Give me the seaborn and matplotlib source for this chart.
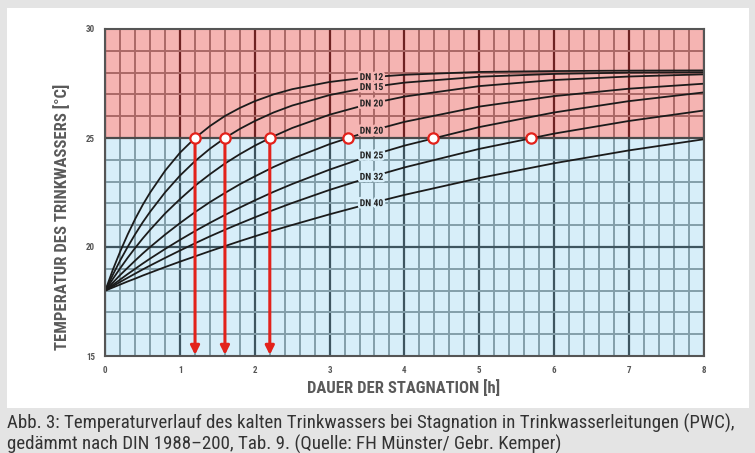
import numpy as np
import pandas as pd
import matplotlib
matplotlib.use("Agg")
import matplotlib.pyplot as plt
import matplotlib.patheffects as pe
from matplotlib.patches import Rectangle
import seaborn as sns

hours = [0, 0.1, 0.2, 0.3, 0.4, 0.5, 0.6, 0.8, 1.0, 1.2, 1.4, 1.6, 1.8, 2.0, 2.25, 2.5,
         3.0, 3.5, 4.0, 5.0, 6.0, 7.0, 8.0]
dn12 = [18.0, 18.95, 19.80, 20.58, 21.29, 21.93, 22.50, 23.50, 24.33, 25.00, 25.55, 26.01,
        26.38, 26.69, 27.00, 27.24, 27.57, 27.78, 27.90, 28.03, 28.07, 28.09, 28.10]
dn15 = [18.0, 18.72, 19.39, 20.01, 20.59, 21.13, 21.62, 22.51, 23.28, 23.94, 24.51, 25.00,
        25.42, 25.78, 26.17, 26.49, 26.97, 27.31, 27.54, 27.81, 27.94, 28.00, 28.02]
dn20a = [18.0, 18.53, 19.03, 19.51, 19.96, 20.39, 20.79, 21.54, 22.20, 22.81, 23.34, 23.83,
         24.26, 24.65, 25.08, 25.46, 26.07, 26.54, 26.90, 27.38, 27.66, 27.82, 27.92]
dn20b = [18.0, 18.36, 18.72, 19.05, 19.38, 19.70, 20.00, 20.57, 21.10, 21.60, 22.06, 22.48,
         22.88, 23.24, 23.67, 24.05, 24.72, 25.28, 25.74, 26.44, 26.92, 27.26, 27.49]
dn25 = [18.0, 18.26, 18.51, 18.76, 19.00, 19.24, 19.47, 19.91, 20.33, 20.73, 21.11, 21.47,
        21.81, 22.14, 22.53, 22.89, 23.55, 24.14, 24.65, 25.50, 26.17, 26.69, 27.09]
dn32 = [18.0, 18.20, 18.40, 18.59, 18.78, 18.97, 19.15, 19.50, 19.84, 20.17, 20.49, 20.79,
        21.08, 21.36, 21.70, 22.02, 22.62, 23.16, 23.65, 24.50, 25.20, 25.78, 26.26]
dn40 = [18.0, 18.14, 18.28, 18.42, 18.55, 18.69, 18.82, 19.08, 19.33, 19.57, 19.81, 20.04,
        20.27, 20.49, 20.76, 21.01, 21.50, 21.96, 22.39, 23.16, 23.84, 24.43, 24.94]

curve_names = ["DN 12", "DN 15", "DN 20", "DN 20", "DN 25", "DN 32", "DN 40"]
curves = [dn12, dn15, dn20a, dn20b, dn25, dn32, dn40]

limit_temp = 25
cross_h = [1.2, 1.6, 2.2, 3.24, 4.38, 5.69]   # 25 °C erreicht
arrow_h = [1.2, 1.6, 2.2]
label_h = 3.56

caption = ("Abb. 3: Temperaturverlauf des kalten Trinkwassers bei Stagnation in Trinkwasserleitungen (PWC),\n"
           "gedämmt nach DIN 1988–200, Tab. 9. (Quelle: FH Münster/ Gebr. Kemper)")

rows = []
for i, vals in enumerate(curves):
    for h, t in zip(hours, vals):
        rows.append({"curve": i, "h": h, "temp": t})
df = pd.DataFrame(rows)

sns.set_style("white")
narrow = ["Roboto Condensed", "DejaVu Sans Condensed", "Liberation Sans Narrow", "Roboto", "DejaVu Sans"]
plt.rcParams["font.family"] = narrow
plt.rcParams["font.stretch"] = "condensed"

RED_BG, BLUE_BG = "#f5b4b2", "#d7eef9"
RED_MIN, RED_MAJ = "#aa6866", "#6e2222"
BLUE_MIN, BLUE_MAJ = "#839ea9", "#3e5560"
ARROW = "#e3221b"

fig = plt.figure(figsize=(7.55, 4.53), dpi=100, facecolor="#e4e4e4")
fig.patches.append(Rectangle((7 / 755, 1 - 408 / 453), 742 / 755, 400 / 453,
                             transform=fig.transFigure, facecolor="white",
                             edgecolor="none", zorder=-5))

ax = fig.add_axes([105.3 / 755, 1 - 356 / 453, 598.2 / 755, 327 / 453])
ax.set_zorder(2)
ax.set_xlim(0, 8)
ax.set_ylim(15, 30)

# Hintergrund und Raster
ax.axhspan(limit_temp, 30, color=RED_BG, zorder=0, lw=0)
ax.axhspan(15, limit_temp, color=BLUE_BG, zorder=0, lw=0)
minor_x = np.arange(0, 8.01, 0.2)
major_x = np.arange(0, 9, 1)
ax.vlines(minor_x, limit_temp, 30, color=RED_MIN, lw=1.4, zorder=1)
ax.vlines(major_x, limit_temp, 30, color=RED_MAJ, lw=1.6, zorder=1.1)
ax.vlines(minor_x, 15, limit_temp, color=BLUE_MIN, lw=1.4, zorder=1)
ax.vlines(major_x, 15, limit_temp, color=BLUE_MAJ, lw=1.6, zorder=1.1)
ax.hlines(np.arange(26, 30, 1), 0, 8, color=RED_MIN, lw=1.4, zorder=1.2)
ax.hlines([16, 17, 18, 19, 21, 22, 23, 24], 0, 8, color=BLUE_MIN, lw=1.4, zorder=1.2)
ax.hlines([20], 0, 8, color=BLUE_MAJ, lw=1.6, zorder=1.3)
ax.hlines([limit_temp], 0, 8, color="#4a4a4a", lw=1.6, zorder=1.3)

# Kurven
sns.lineplot(data=df, x="h", y="temp", units="curve", estimator=None, sort=False,
             color="#1b1b1b", linewidth=1.3, ax=ax, zorder=3, legend=False)

for name, vals in zip(curve_names, curves):
    y = np.interp(label_h, hours, vals)
    bg = RED_BG if y >= limit_temp else BLUE_BG
    ax.text(label_h, y, name, ha="center", va="center", fontsize=7,
            fontweight="bold", color="#222222", zorder=4,
            path_effects=[pe.withStroke(linewidth=3.5, foreground=bg)])

for h in arrow_h:
    ax.annotate("", xy=(h, 15.05), xytext=(h, limit_temp),
                arrowprops=dict(arrowstyle="-|>", color=ARROW, lw=2.2,
                                mutation_scale=13, shrinkA=0, shrinkB=0),
                zorder=5)

sns.scatterplot(x=cross_h, y=[limit_temp] * len(cross_h), s=55, color="white",
                edgecolor=ARROW, linewidth=1.6, zorder=6, ax=ax, legend=False)

# Achsen
ax.set_xticks(major_x)
ax.set_xticks(minor_x, minor=True)
ax.set_yticks([15, 20, 25, 30])
ax.set_yticks(np.arange(15, 31, 1), minor=True)
ax.tick_params(which="both", direction="out", length=3.5, width=1, color="#666666",
               labelsize=6.5, labelcolor="#555555", pad=4)
for lab in ax.get_xticklabels() + ax.get_yticklabels():
    lab.set_fontweight("bold")
ax.set_xlabel("")
ax.set_ylabel("")
for sp in ax.spines.values():
    sp.set_visible(True)
    sp.set_color("#555555")
    sp.set_linewidth(1.5)
    sp.set_zorder(7)

fig.text(404 / 755, 1 - 388 / 453, "DAUER DER STAGNATION [h]", ha="center", va="center",
         fontsize=12, fontweight="bold", color="#5a5a5a")
fig.text(62 / 755, 1 - 217 / 453, "TEMPERATUR DES TRINKWASSERS [°C]", ha="center",
         va="center", rotation=90, fontsize=12, fontweight="bold", color="#5a5a5a")

fig.text(7 / 755, 1 - 434 / 453, caption, ha="left", va="center", fontsize=13.6,
         color="#333333", linespacing=1.1)

fig.savefig("out.png", dpi=100, facecolor=fig.get_facecolor())
